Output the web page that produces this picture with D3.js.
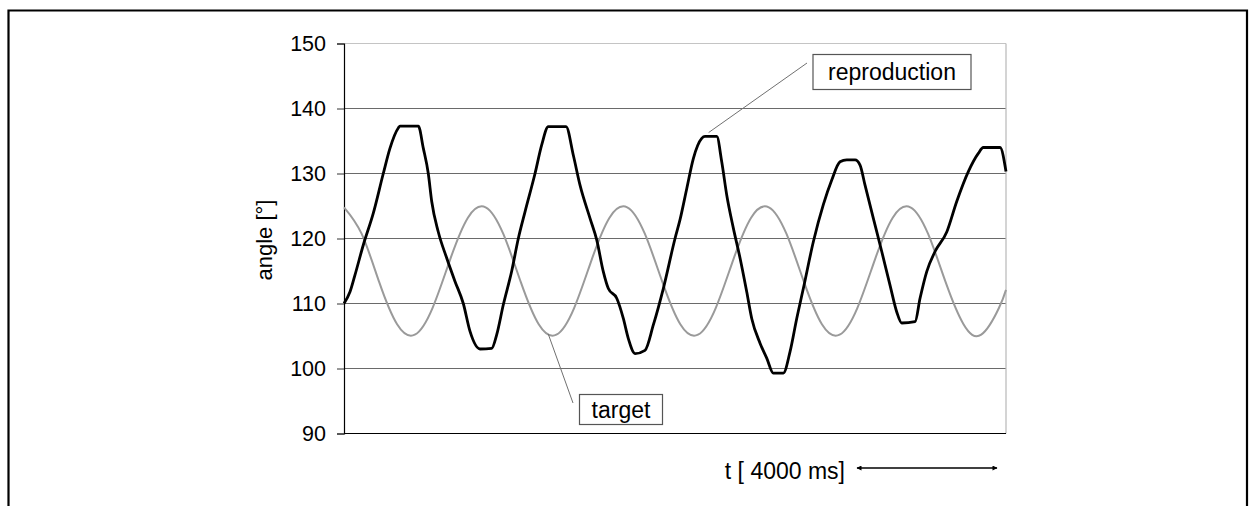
<!DOCTYPE html>
<html>
<head>
<meta charset="utf-8">
<script src="https://cdn.jsdelivr.net/npm/d3@7.9.0/dist/d3.min.js"></script>
<style>
  body { margin: 0; background: #fff; }
  svg { display: block; font-family: "Liberation Sans", Arial, sans-serif; }
</style>
</head>
<body>
<svg id="chart" width="1252" height="506"></svg>
<script>
// y axis ticks
const yTicks = [90, 100, 110, 120, 130, 140, 150];

const targetTime = [
  0, 500, 1000, 1500, 2000, 2500, 3000, 3500,
  4000, 4500, 5000, 5500, 6000, 6500, 7000, 7500,
  8000, 8500, 9000, 9500, 10000, 10500, 11000, 11500,
  12000, 12500, 13000, 13500, 14000, 14500, 15000, 15500,
  16000, 16500, 17000, 17500, 18000, 18500, 18700
];
const targetAngle = [
  124.8, 120.7, 113.2, 106.8, 105.2, 109.3, 116.8, 123.2,
  124.8, 120.7, 113.2, 106.8, 105.2, 109.3, 116.8, 123.2,
  124.8, 120.7, 113.2, 106.8, 105.2, 109.3, 116.8, 123.2,
  124.8, 120.7, 113.2, 106.8, 105.2, 109.3, 116.8, 123.2,
  124.8, 120.7, 113.2, 106.8, 105.2, 109.3, 112.1
];

// reproduction (black line)
const reproTime = [
  0, 170, 311, 545, 828, 1110, 1300, 1534, 1582, 2099, 2240, 2381, 2478, 2664,
  2901, 3136, 3370, 3560, 3842, 4173, 4314, 4500, 4738, 4924, 5113, 5396, 5585,
  5772, 6272, 6478, 6667, 6950, 7139, 7325, 7467, 7704, 7890, 8032, 8221, 8503,
  8738, 9020, 9351, 9492, 9683, 9868, 10105, 10198, 10529, 10670, 10811, 10998,
  11187, 11376, 11517, 11752, 11941, 12128, 12410, 12600, 12789, 12975, 13258,
  13540, 13778, 14012, 14201, 14436, 14577, 14718, 14953, 15190, 15425, 15614,
  15755, 16131, 16272, 16461, 16696, 17026, 17308, 17636, 17918, 18059, 18532, 18700
];
const reproAngle = [
  110.0, 111.8, 114.4, 119.0, 123.9, 130.0, 133.9, 137.0, 137.3, 137.3, 133.9, 130.0, 125.7, 121.0,
  117.0, 113.4, 110.0, 105.7, 103.0, 103.1, 105.2, 109.8, 115.0, 120.0, 124.1, 130.0, 134.4,
  137.2, 137.2, 132.8, 128.2, 123.1, 119.8, 114.9, 112.3, 110.8, 107.7, 104.6, 102.3, 102.8,
  106.7, 112.3, 120.0, 122.9, 127.7, 132.3, 135.4, 135.7, 135.7, 131.8, 126.7, 121.6,
  117.0, 111.8, 107.7, 103.9, 101.6, 99.3, 99.3, 102.6, 107.7, 112.3, 119.5,
  125.2, 129.0, 131.8, 132.1, 132.1, 131.3, 128.2, 123.1, 118.0, 112.8, 108.7,
  107.0, 107.2, 110.8, 114.9, 118.0, 121.0, 125.7, 130.3, 133.1, 134.0, 134.0, 130.3
];

const svg = d3.select('#chart');

// outer frame (open at the bottom)
svg.append('path')
  .attr('d', 'M8.5,506 V10.5 H1247 V506')
  .attr('fill', 'none')
  .attr('stroke', '#000')
  .attr('stroke-width', 2.2);

const x = d3.scaleLinear().domain([0, 18700]).range([344, 1006]);
const y = d3.scaleLinear().domain([90, 150]).range([433.5, 43.5]);

/*grid*/
svg.append('g')
  .selectAll('line')
  .data(yTicks.filter(d => d > 90))
  .join('line')
  .attr('x1', x(0))
  .attr('x2', x(18700))
  .attr('y1', d => y(d))
  .attr('y2', d => y(d))
  .attr('stroke', d => d === 150 ? '#c4c4c4' : '#6a6a6a')
  .attr('stroke-width', 1.2);

// right edge of the plot area
svg.append('line')
  .attr('x1', x(18700)).attr('x2', x(18700))
  .attr('y1', y(150)).attr('y2', y(90))
  .attr('stroke', '#b8b8b8')
  .attr('stroke-width', 1.2);

/*axes*/
const yAxis = svg.append('g')
  .attr('transform', `translate(${x(0)},0)`)
  .call(d3.axisLeft(y).tickValues(yTicks).tickSize(7).tickPadding(11));
yAxis.select('.domain').attr('stroke', '#000').attr('stroke-width', 1.2);
yAxis.selectAll('.tick line').attr('stroke', '#333');
yAxis.selectAll('.tick text')
  .attr('font-size', 21.5)
  .attr('font-family', '"Liberation Sans", Arial, sans-serif')
  .attr('fill', '#000');

svg.append('line')
  .attr('x1', x(0)).attr('x2', x(18700))
  .attr('y1', y(90)).attr('y2', y(90))
  .attr('stroke', '#000')
  .attr('stroke-width', 1.2);

svg.append('text')
  .attr('transform', `translate(272,240) rotate(-90)`)
  .attr('text-anchor', 'middle')
  .attr('font-size', 22)
  .text('angle [°]');

/*lines*/
const target = targetTime.map((t, i) => [t, targetAngle[i]]);
const repro = reproTime.map((t, i) => [t, reproAngle[i]]);

svg.append('path')
  .datum(target)
  .attr('fill', 'none')
  .attr('stroke', '#9a9a9a')
  .attr('stroke-width', 2)
  .attr('d', d3.line().x(d => x(d[0])).y(d => y(d[1])).curve(d3.curveNatural));

svg.append('path')
  .datum(repro)
  .attr('fill', 'none')
  .attr('stroke', '#000')
  .attr('stroke-width', 2.8)
  .attr('stroke-linejoin', 'round')
  .attr('d', d3.line().x(d => x(d[0])).y(d => y(d[1])).curve(d3.curveMonotoneX));

/*callouts*/
function callout(label, box, anchor, from) {
  svg.append('line')
    .attr('x1', from[0]).attr('y1', from[1])
    .attr('x2', x(anchor[0])).attr('y2', y(anchor[1]))
    .attr('stroke', '#707070')
    .attr('stroke-width', 1);
  svg.append('rect')
    .attr('x', box[0]).attr('y', box[1])
    .attr('width', box[2]).attr('height', box[3])
    .attr('fill', '#fff')
    .attr('stroke', '#555')
    .attr('stroke-width', 1.2);
  svg.append('text')
    .attr('x', box[0] + box[2] / 2)
    .attr('y', box[1] + box[3] / 2 + 8)
    .attr('text-anchor', 'middle')
    .attr('font-size', 23)
    .text(label);
}
callout('reproduction', [813, 54.5, 158, 35], [10300, 136.3], [807, 63]);
callout('target', [579.5, 394.5, 83, 30], [5770, 105.3], [573, 403]);

/*time scale label*/
svg.append('text')
  .attr('x', 845)
  .attr('y', 479)
  .attr('text-anchor', 'end')
  .attr('font-size', 23)
  .text('t [ 4000 ms]');

const defs = svg.append('defs');
defs.append('marker')
  .attr('id', 'head')
  .attr('viewBox', '0 0 10 10')
  .attr('refX', 9).attr('refY', 5)
  .attr('markerWidth', 7).attr('markerHeight', 5)
  .attr('markerUnits', 'userSpaceOnUse')
  .attr('orient', 'auto-start-reverse')
  .append('path')
  .attr('d', 'M0,0 L10,5 L0,10 Z')
  .attr('fill', '#000');

svg.append('line')
  .attr('x1', 857).attr('x2', 997)
  .attr('y1', 468).attr('y2', 468)
  .attr('stroke', '#000')
  .attr('stroke-width', 1.5)
  .attr('marker-start', 'url(#head)')
  .attr('marker-end', 'url(#head)');
</script>
</body>
</html>
